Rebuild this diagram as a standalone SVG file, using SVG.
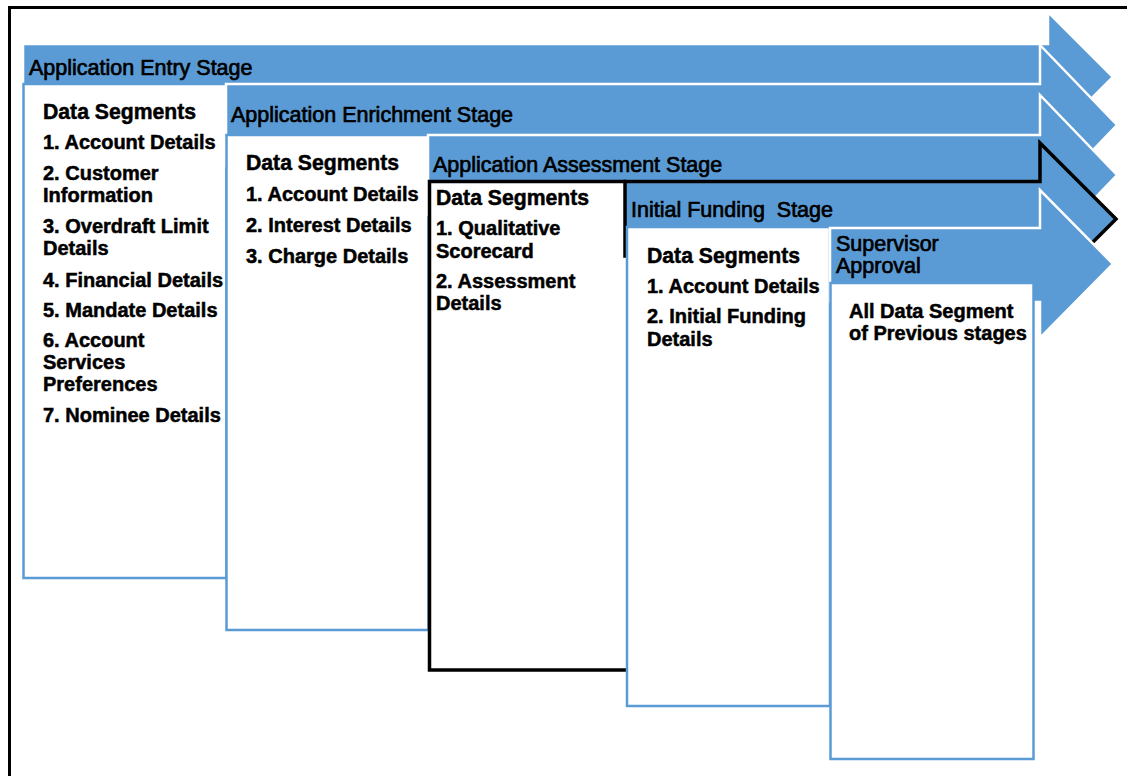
<svg xmlns="http://www.w3.org/2000/svg" width="1127" height="776" viewBox="0 0 1127 776">
  <defs>
    <style>
      .stage { fill: #5B9BD5; stroke: #FFFFFF; stroke-width: 2.5; stroke-linejoin: miter; }
      .stage-dark { fill: #5B9BD5; stroke: #000000; stroke-width: 3.5; stroke-linejoin: miter; }
      .panel { fill: #FFFFFF; stroke: #5B9BD5; stroke-width: 2.5; }
      .panel-fill { fill: #FFFFFF; stroke: none; }
      .panel-dark { fill: none; stroke: #000000; stroke-width: 3.5; }
      .title { font-family: "Liberation Sans", Arial, sans-serif; font-size: 21.5px; fill: #000; stroke: #000; stroke-width: 0.7; white-space: pre; }
      .head { font-family: "Liberation Sans", Arial, sans-serif; font-size: 21.2px; font-weight: bold; fill: #000; stroke: #000; stroke-width: 0.5; }
      .item { font-family: "Liberation Sans", Arial, sans-serif; font-size: 20px; font-weight: bold; fill: #000; stroke: #000; stroke-width: 0.5; }
    </style>
  </defs>

  <rect width="1127" height="776" fill="#FFFFFF"/>

  <!-- outer frame, continuing past the right and bottom edges -->
  <rect x="9.5" y="7.5" width="1200" height="900" fill="none" stroke="#000" stroke-width="3"/>

  <g id="connectors"/>

  <!-- Stage 1 -->
  <g id="stage-entry">
    <polygon class="stage" points="23,44 1048,44 1048,12 1113,77 1048,142 1048,110 23,110"/>
    <text class="title" x="29" y="75">Application Entry Stage</text>
    <rect class="panel" x="23.5" y="84" width="203" height="494"/>
    <text class="head" x="43" y="119">Data Segments</text>
    <text class="item" x="43" y="149">1. Account Details</text>
    <text class="item" x="43" y="180">2. Customer</text>
    <text class="item" x="43" y="202">Information</text>
    <text class="item" x="43" y="233">3. Overdraft Limit</text>
    <text class="item" x="43" y="255">Details</text>
    <text class="item" x="43" y="287">4. Financial Details</text>
    <text class="item" x="43" y="317">5. Mandate Details</text>
    <text class="item" x="43" y="347">6. Account</text>
    <text class="item" x="43" y="369">Services</text>
    <text class="item" x="43" y="391">Preferences</text>
    <text class="item" x="43" y="422">7. Nominee Details</text>
  </g>

  <!-- Stage 2 -->
  <g id="stage-enrichment">
    <polygon class="stage" points="226,84 1040,84 1040,45 1117,125 1040,205 1040,166 226,166"/>
    <text class="title" x="231" y="122">Application Enrichment Stage</text>
    <rect class="panel" x="226.5" y="135" width="202" height="495"/>
    <text class="head" x="246" y="170">Data Segments</text>
    <text class="item" x="246" y="201">1. Account Details</text>
    <text class="item" x="246" y="232">2. Interest Details</text>
    <text class="item" x="246" y="263">3. Charge Details</text>
  </g>

  <!-- Stage 3 -->
  <g id="stage-assessment">
    <polygon class="stage" points="428,135 1040,135 1040,95 1117,175 1040,255 1040,215 428,215"/>
    <text class="title" x="433" y="172">Application Assessment Stage</text>
    <rect class="panel-fill" x="429.5" y="181.5" width="197" height="488.5"/>
    <path class="panel-dark" d="M626,670 L429.5,670 L429.5,181.5 L626,181.5"/>
    <text class="head" x="436" y="205">Data Segments</text>
    <text class="item" x="436" y="235">1. Qualitative</text>
    <text class="item" x="436" y="258">Scorecard</text>
    <text class="item" x="436" y="288">2. Assessment</text>
    <text class="item" x="436" y="310">Details</text>
  </g>

  <!-- Stage 4 -->
  <g id="stage-funding">
    <polygon class="stage-dark" points="625,181.5 1040,181.5 1040,143 1116,219 1040,295 1040,256 625,256"/>
    <text class="title" x="631" y="217" xml:space="preserve">Initial Funding  Stage</text>
    <rect class="panel" x="627" y="227" width="203" height="479"/>
    <text class="head" x="647" y="263">Data Segments</text>
    <text class="item" x="647" y="293">1. Account Details</text>
    <text class="item" x="647" y="323">2. Initial Funding</text>
    <text class="item" x="647" y="346">Details</text>
  </g>

  <!-- Stage 5 -->
  <g id="stage-supervisor">
    <polygon class="stage" points="830,228 1040,228 1040,190 1113,264 1040,338 1040,302 830,302"/>
    <text class="title" x="836" y="251">Supervisor</text>
    <text class="title" x="836" y="273">Approval</text>
    <rect class="panel" x="830.5" y="283" width="203" height="476"/>
    <text class="item" x="849" y="318">All Data Segment</text>
    <text class="item" x="849" y="340">of Previous stages</text>
  </g>
</svg>
